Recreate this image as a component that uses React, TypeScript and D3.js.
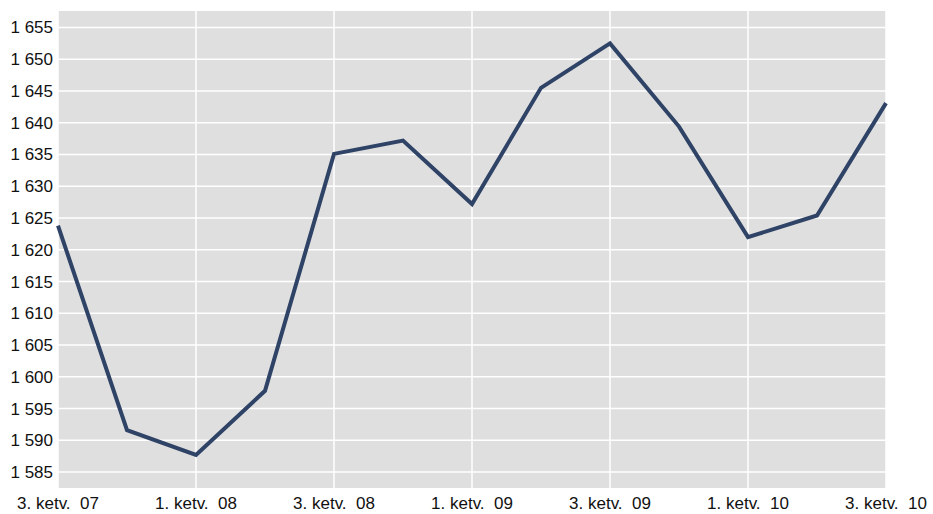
import React from "react";
import * as d3 from "d3";

const quarters = ["Q3 07","Q4 07","Q1 08","Q2 08","Q3 08","Q4 08","Q1 09","Q2 09","Q3 09","Q4 09","Q1 10","Q2 10","Q3 10"];
const values = [1623.8, 1591.6, 1587.7, 1597.8, 1635.1, 1637.2, 1627.2, 1645.5, 1652.5, 1639.4, 1622.0, 1625.4, 1643.1];
const xTickIdx = [0, 2, 4, 6, 8, 10, 12];
const xTickLabels = ["3. ketv.  07", "1. ketv.  08", "3. ketv.  08", "1. ketv.  09", "3. ketv.  09", "1. ketv.  10", "3. ketv.  10"];
const yTicks = [1585, 1590, 1595, 1600, 1605, 1610, 1615, 1620, 1625, 1630, 1635, 1640, 1645, 1650, 1655];

const W = 933, H = 514;
const L = 58, R = 886, T = 11, B = 488;

export default function App() {
  const x = d3.scaleLinear().domain([0, quarters.length - 1]).range([L, R]);
  const y = d3.scaleLinear().domain([1582.5, 1657.6]).range([B, T]);
  const line = d3.line<number>().x((_, i) => x(i)).y((d) => y(d));
  const fmt = (v: number) => d3.format(",")(v).replace(",", " ");
  const font = "'Liberation Sans', Arial, sans-serif";
  return (
    <svg width={W} height={H} style={{ position: "absolute", left: 0, top: 0, background: "#fff" }}>
      <rect x={L} y={T} width={R - L} height={B - T} fill="#dfdfdf" />
      {yTicks.map((t) => (
        <line key={"gy" + t} x1={L} x2={R} y1={y(t)} y2={y(t)} stroke="#fff" strokeWidth={1.5} />
      ))}
      {xTickIdx.map((i) => (
        <line key={"gx" + i} x1={x(i)} x2={x(i)} y1={T} y2={B} stroke="#fff" strokeWidth={1.5} />
      ))}
      <path d={line(values) || ""} fill="none" stroke="#2f4366" strokeWidth={4} strokeLinejoin="miter" />
      {yTicks.map((t) => (
        <text key={"ly" + t} x={53} y={y(t)} dy="0.35em" textAnchor="end" fontFamily={font} fontSize={17} fill="#111">
          {fmt(t)}
        </text>
      ))}
      {xTickIdx.map((i, k) => (
        <text key={"lx" + i} x={x(i)} y={509} textAnchor="middle" fontFamily={font} fontSize={17} fill="#111" style={{ whiteSpace: "pre" }}>
          {xTickLabels[k]}
        </text>
      ))}
    </svg>
  );
}
